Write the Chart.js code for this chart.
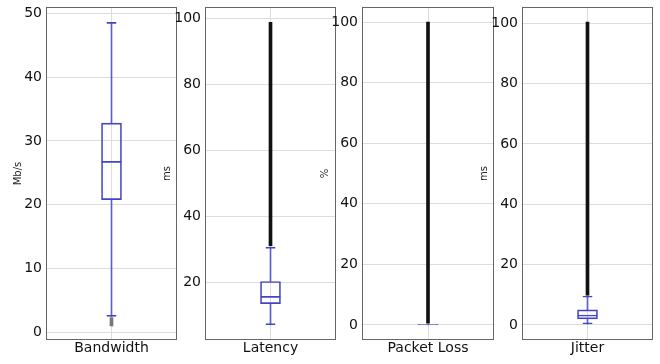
<!DOCTYPE html>
<html>
<head>
<meta charset="utf-8">
<script src="https://cdn.jsdelivr.net/npm/chart.js@4.4.0/dist/chart.umd.min.js"></script>
<style>
  html, body { margin: 0; padding: 0; background: #fff; }
  #wrap { position: relative; width: 660px; height: 364px; overflow: hidden; }
  #wrap canvas { position: absolute; top: 0; }
</style>
</head>
<body>
<div id="wrap"></div>
<script>
// box plot statistics, one entry per panel
const panels = ['Bandwidth', 'Latency', 'Packet Loss', 'Jitter'];
const units = ['Mb/s', 'ms', '%', 'ms'];
const q1 = [20.8, 13.7, 0, 2.0];
const median = [26.8, 15.9, 0.1, 3.3];
const q3 = [32.8, 20.4, 0.3, 5.0];
const whiskerLow = [2.5, 7.3, 0, 0.3];
const whiskerHigh = [48.6, 30.8, 0.3, 9.6];
const outlierLow = [1.0, 31.2, 0.6, 9.9];
const outlierHigh = [2.3, 98.8, 100, 100.4];

// axis limits and tick spacing
const yMin = [-1.2, 2.7, -5, -5];
const yMax = [51.0, 103.4, 105, 105.4];
const yStep = [10, 20, 20, 20];

// layout of the four panels (frame left edge / width in px)
const frameLeft = [46, 205, 362, 522];
const frameWidth = [131, 131, 132, 131];
const titlePad = [12, 2, 3, 2];
const AXIS_W = 46;

const BOX = '#4545c2';
const WHISKER = '#5d5dd0';
const FONT = 'DejaVu Sans';

const frame = {
  id: 'frame',
  afterDraw(chart) {
    const { ctx, chartArea: a } = chart;
    ctx.save();
    ctx.strokeStyle = '#666';
    ctx.lineWidth = 1;
    ctx.strokeRect(Math.round(a.left) + 0.5, Math.round(a.top) + 0.5,
      Math.round(a.right - a.left) - 1, Math.round(a.bottom - a.top) - 1);
    ctx.restore();
  }
};

const clear = 'rgba(0,0,0,0)';
const wrap = document.getElementById('wrap');

panels.forEach((name, i) => {
  const cv = document.createElement('canvas');
  const w = AXIS_W + frameWidth[i] + 1;
  cv.width = w;
  cv.height = 364;
  cv.style.left = (frameLeft[i] - AXIS_W) + 'px';
  cv.style.width = w + 'px';
  cv.style.height = '364px';
  wrap.appendChild(cv);

  const bar = { type: 'bar', grouped: false, borderSkipped: false };

  new Chart(cv, {
    type: 'bar',
    data: {
      labels: [name],
      datasets: [
        { ...bar, label: 'outliers', order: 0, data: [[outlierLow[i], outlierHigh[i]]],
          backgroundColor: i === 0 ? '#777' : '#111', borderWidth: 0, barThickness: 3 },
        { ...bar, label: 'box', order: 1, data: [[q1[i], q3[i]]],
          backgroundColor: clear, borderColor: BOX, borderWidth: 1, barThickness: 20 },
        { ...bar, label: 'median', order: 1, data: [[q1[i], median[i]]],
          backgroundColor: clear, borderColor: BOX,
          borderWidth: { top: 1, bottom: 0, left: 0, right: 0 }, barThickness: 20 },
        { ...bar, label: 'upper cap', order: 2, data: [[q3[i], whiskerHigh[i]]],
          backgroundColor: clear, borderColor: BOX,
          borderWidth: { top: 1, bottom: 0, left: 0, right: 0 }, barThickness: 10 },
        { ...bar, label: 'lower cap', order: 2, data: [[whiskerLow[i], q1[i]]],
          backgroundColor: clear, borderColor: BOX,
          borderWidth: { top: 0, bottom: 1, left: 0, right: 0 }, barThickness: 10 },
        { ...bar, label: 'upper whisker', order: 3, data: [[q3[i], whiskerHigh[i]]],
          backgroundColor: WHISKER, borderWidth: 0, barThickness: 1 },
        { ...bar, label: 'lower whisker', order: 3, data: [[whiskerLow[i], q1[i]]],
          backgroundColor: WHISKER, borderWidth: 0, barThickness: 1 }
      ]
    },
    options: {
      responsive: false,
      animation: false,
      layout: { padding: { top: 7, right: 1, left: 0, bottom: 0 } },
      plugins: { legend: { display: false }, tooltip: { enabled: false } },
      scales: {
        x: {
          grid: { color: '#dddddd', offset: false, drawTicks: false },
          border: { display: false },
          ticks: { color: '#111', padding: 0, font: { family: FONT, size: 14 } },
          afterFit: s => { s.height = 24; s.paddingLeft = 0; s.paddingRight = 0; }
        },
        y: {
          min: yMin[i],
          max: yMax[i],
          grid: { color: '#dddddd', drawTicks: false },
          border: { display: false },
          ticks: {
            stepSize: yStep[i], includeBounds: false, autoSkip: false,
            color: '#111', padding: 4, font: { family: FONT, size: 14 }
          },
          title: {
            display: true, text: units[i], color: '#222',
            padding: { top: titlePad[i], bottom: 0 },
            font: { family: FONT, size: 10 }
          },
          afterFit: s => { s.width = AXIS_W; s.paddingTop = 0; s.paddingBottom = 0; }
        }
      }
    },
    plugins: [frame]
  });
});
</script>
</body>
</html>
